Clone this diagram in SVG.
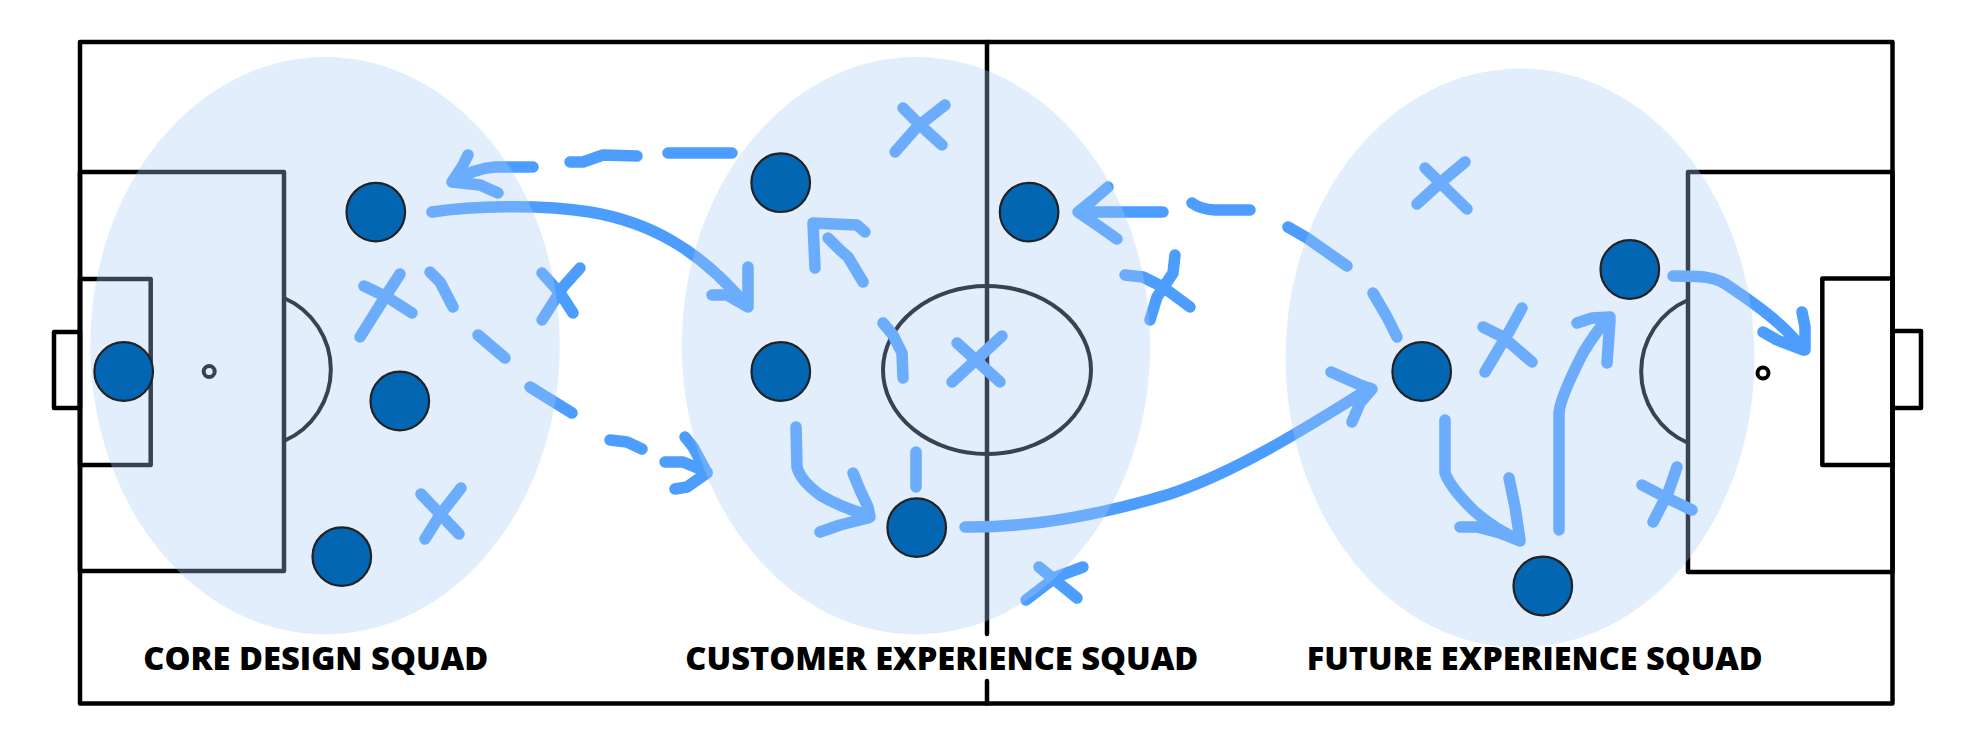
<svg xmlns="http://www.w3.org/2000/svg" width="1979" height="744" viewBox="0 0 1979 744">
  <style>
    .line { fill: none; stroke: #000; stroke-width: 4.5; stroke-linejoin: round; stroke-linecap: round; }
    .thin { fill: none; stroke: #000; stroke-width: 4; }
    .ink { fill: none; stroke: #4d9dff; stroke-width: 11.5; stroke-linecap: round; stroke-linejoin: round; }
    .zone { fill: rgb(169,203,246); fill-opacity: 0.33; }
    .player { fill: #0366b3; stroke: #222; stroke-width: 2.2; }
    .label { font-family: "Open Sans", "Liberation Sans", sans-serif; font-weight: 800; font-size: 32px; fill: #000; }
  </style>
  <rect width="1979" height="744" fill="#fff"/>

  <g id="pitch">
    <rect class="line" x="80" y="42" width="1812.5" height="661.5" stroke-width="5"/>
    <path class="line" d="M987,42 L987,634 M987,681 L987,703.5"/>
    <ellipse class="thin" cx="987" cy="370" rx="104" ry="84"/>
    <rect class="line" x="54" y="332" width="26" height="76"/>
    <rect class="line" x="80" y="279" width="70.7" height="186"/>
    <rect class="line" x="80" y="172" width="204" height="399"/>
    <path class="thin" d="M284,298 A78,78 0 0 1 284,441"/>
    <circle class="thin" cx="209.2" cy="371.5" r="5.5"/>
    <rect class="line" x="1892.5" y="331" width="28.5" height="77"/>
    <rect class="line" x="1822.3" y="278.5" width="70.2" height="186.5"/>
    <rect class="line" x="1688" y="172" width="204.5" height="400"/>
    <path class="thin" d="M1688,300 A78,78 0 0 0 1688,443"/>
    <circle class="thin" cx="1763" cy="373" r="5.5"/>
  </g>

  <g id="opponents">
    <g id="opp-1"><path class="ink" d="M400,274 L387,294 L360,337 M364,286 L387,297 L412,313"/></g>
    <g id="opp-2"><path class="ink" d="M580,268 L563,287 L542,320 M542,273 L560,293 L573,313"/></g>
    <g id="opp-3"><path class="ink" d="M461,488 L440,515 L425,539 M421,494 L459,534"/></g>
    <g id="opp-4"><path class="ink" d="M945,105 L917,127 L895,152 M903,108 L920,125 L942,145"/></g>
    <g id="opp-5"><path class="ink" d="M1002,336 L952,382 M957,343 L1000,382"/></g>
    <g id="opp-6"><path class="ink" d="M1175,255 L1173,273 L1157,297 L1150,320 M1125,275 L1143,277 L1163,287 L1190,307"/></g>
    <g id="opp-7"><path class="ink" d="M1083,567 L1056,577 L1026,600 M1039,567 L1077,598"/></g>
    <g id="opp-8"><path class="ink" d="M1465,162 L1440,183 L1417,204 M1425,168 L1467,209"/></g>
    <g id="opp-9"><path class="ink" d="M1522,308 L1510,330 L1485,372 M1483,327 L1503,337 L1532,362"/></g>
    <g id="opp-10"><path class="ink" d="M1677,467 L1668,493 L1653,522 M1642,485 L1667,498 L1692,510"/></g>
  </g>

  <g id="connectors">
    <path class="ink" d="M668,153 L732,153 M570,162 L583,162 L603,155 L637,156 M453,182 Q475,168 495,167 L533,167 M468,155 L462,167 L452,182 L480,185 L498,193"/>
    <path class="ink" d="M432,212 C470,206 540,204 590,212 C650,222 700,250 746,305 M748,267 L748,307 M712,295 L727,295 L748,307"/>
    <path class="ink" d="M430,272 L440,282 L453,307 M478,335 L505,358 M530,387 L572,413 M610,440 L627,442 L642,449 M665,462 L683,462 L707,472 M685,437 L693,447 L707,473 L687,487 L675,489"/>
    <path class="ink" d="M863,282 L848,257 L840,250 L828,238 M815,268 L813,223 L857,225 L865,232 M883,323 L893,335 L902,353 L903,378"/>
    <path class="ink" d="M916,452 L916,487"/>
    <path class="ink" d="M796,427 L797,467 Q800,480 820,495 Q840,507 867,515 M853,473 L860,490 L868,507 L870,517 M868,518 L840,525 L820,532"/>
    <path class="ink" d="M965,527 C1040,528 1110,512 1170,494 C1235,472 1300,432 1370,388 M1331,372 L1358,384 L1371,389 M1352,422 L1360,403 L1372,389"/>
    <path class="ink" d="M1078,212 L1163,212 M1108,187 L1093,200 L1078,212 L1100,227 L1117,239 M1192,203 Q1200,209 1215,210 L1250,210 M1288,227 L1307,238 L1347,266 M1373,293 L1387,317 L1397,337"/>
    <path class="ink" d="M1445,420 L1445,473 Q1450,487 1473,510 Q1495,530 1520,540 M1509,478 L1515,507 L1520,540 M1460,527 L1477,527 L1500,533 L1520,541"/>
    <path class="ink" d="M1559,530 L1559,413 Q1560,398 1583,353 Q1595,333 1608,318 M1577,323 L1592,318 L1610,317 M1610,320 L1607,363"/>
    <path class="ink" d="M1673,276 C1700,276 1716,276 1730,287 C1752,302 1785,324 1803,350 M1802,312 L1805,327 L1805,350 M1763,332 L1777,340 L1803,350"/>
  </g>

  <g id="squad-core">
    <ellipse class="zone" cx="325" cy="345.7" rx="234.7" ry="288.7"/>
    <text class="label" x="143.3" y="670" textLength="345" lengthAdjust="spacingAndGlyphs">CORE DESIGN SQUAD</text>
  </g>
  <g id="squad-customer">
    <ellipse class="zone" cx="916" cy="345.7" rx="234.2" ry="288.7"/>
    <text class="label" x="685.3" y="670" textLength="513" lengthAdjust="spacingAndGlyphs">CUSTOMER EXPERIENCE SQUAD</text>
  </g>
  <g id="squad-future">
    <ellipse class="zone" cx="1520" cy="358" rx="234.5" ry="289.5"/>
    <text class="label" x="1306.7" y="670" textLength="456" lengthAdjust="spacingAndGlyphs">FUTURE EXPERIENCE SQUAD</text>
  </g>

  <g id="players">
    <g id="player-1"><circle class="player" cx="375.8" cy="212.1" r="29.3"/></g>
    <g id="player-2"><circle class="player" cx="123.7" cy="371.5" r="29.3"/></g>
    <g id="player-3"><circle class="player" cx="399.8" cy="401" r="29.3"/></g>
    <g id="player-4"><circle class="player" cx="341.8" cy="556.6" r="29.3"/></g>
    <g id="player-5"><circle class="player" cx="780.7" cy="182.7" r="29.3"/></g>
    <g id="player-6"><circle class="player" cx="780.8" cy="371.5" r="29.3"/></g>
    <g id="player-7"><circle class="player" cx="1029.1" cy="212.1" r="29.3"/></g>
    <g id="player-8"><circle class="player" cx="916.7" cy="527.6" r="29.3"/></g>
    <g id="player-9"><circle class="player" cx="1629.8" cy="269.5" r="29.3"/></g>
    <g id="player-10"><circle class="player" cx="1421.7" cy="371.5" r="29.3"/></g>
    <g id="player-11"><circle class="player" cx="1542.8" cy="586" r="29.3"/></g>
  </g>
</svg>
